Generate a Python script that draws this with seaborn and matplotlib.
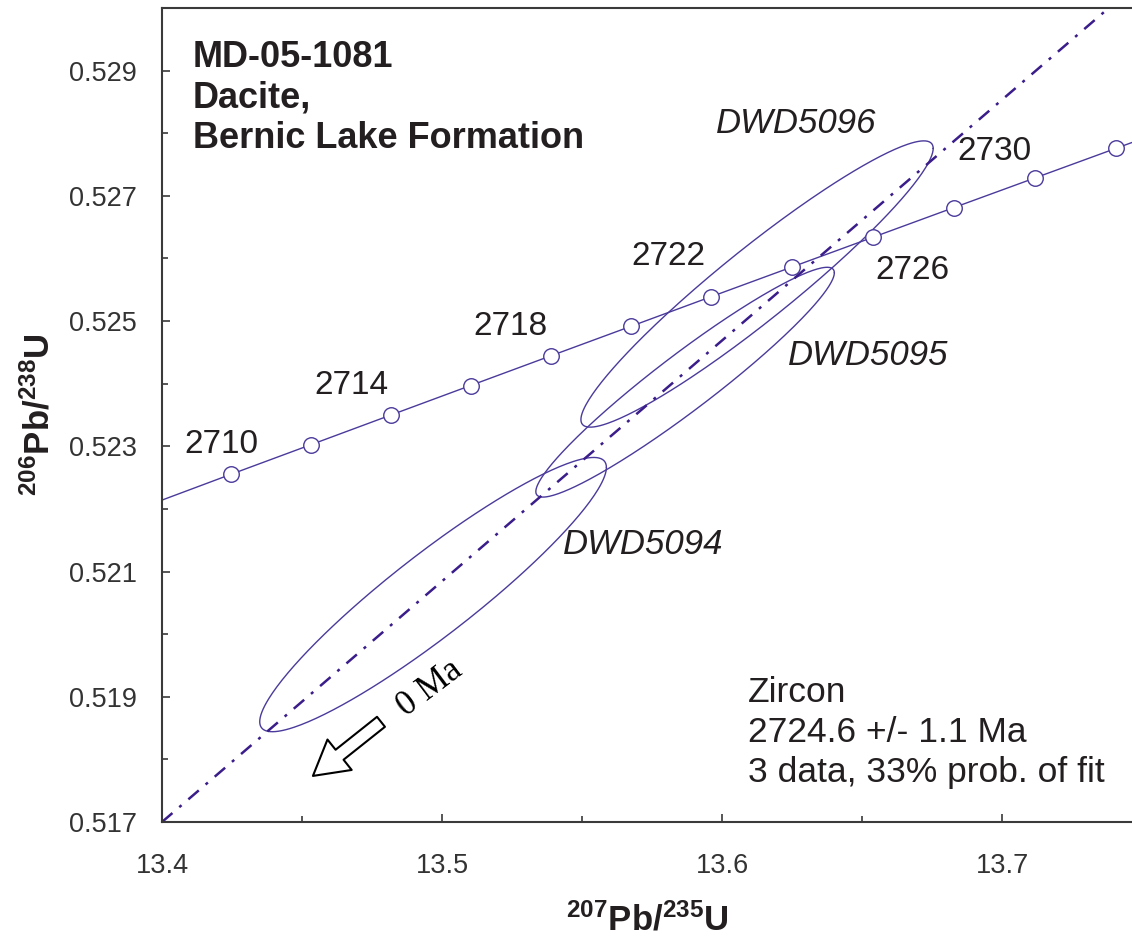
import numpy as np
import matplotlib
matplotlib.use("Agg")
import matplotlib.pyplot as plt
import seaborn as sns

# ---------------- data ----------------
# concordia tick marks (age in Ma) and their ratios
ages = [2710, 2712, 2714, 2716, 2718, 2720, 2722, 2724, 2726, 2728, 2730, 2732]
conc_x = [13.4247, 13.4532, 13.4817, 13.5102, 13.5388, 13.5675,
          13.5962, 13.6250, 13.6538, 13.6827, 13.7117, 13.7407]
conc_y = [0.522554, 0.523026, 0.523499, 0.523971, 0.524444, 0.524917,
          0.525391, 0.525864, 0.526337, 0.526811, 0.527285, 0.527759]
# concordia continues to the plot edges
curve_x = [13.4] + conc_x + [13.7464]
curve_y = [0.522141] + conc_y + [0.527852]

# labelled ages and label positions
label_ages = ["2710", "2714", "2718", "2722", "2726", "2730"]
label_x = [13.4211, 13.4675, 13.5246, 13.5807, 13.6679, 13.6971]
label_y = [0.523032, 0.523976, 0.524920, 0.526024, 0.525800, 0.527704]

# analyses: error ellipses (centre, half-extent in x and y, correlation)
names = ["DWD5094", "DWD5095", "DWD5096"]
ell_cx = [13.4968, 13.5868, 13.6125]
ell_cy = [0.520632, 0.524024, 0.525592]
ell_ex = [0.0619, 0.0533, 0.0629]
ell_ey = [0.00219, 0.001835, 0.002286]
ell_rho = [0.927, 0.952, 0.947]
name_x = [13.5718, 13.6521, 13.6264]
name_y = [0.521432, 0.524456, 0.528152]

# discordia (regression line)
disc_x = [13.4, 13.7381]
disc_y = [0.517, 0.530]

title_lines = ["MD-05-1081", "Dacite,", "Bernic Lake Formation"]
result_lines = ["Zircon", "2724.6 +/- 1.1 Ma", "3 data, 33% prob. of fit"]

# ---------------- style ----------------
sns.set_theme(style="ticks")
plt.rcParams["font.family"] = ["Liberation Sans", "DejaVu Sans"]
plt.rcParams["mathtext.fontset"] = "custom"
plt.rcParams["mathtext.rm"] = "Liberation Sans"
plt.rcParams["mathtext.bf"] = "Liberation Sans:bold"

line_col = "#4b3a9b"
disc_col = "#3a1d8a"
txt_col = "#231f20"
spine_col = "#3a3a3a"

W, H = 1132, 939
fig = plt.figure(figsize=(W / 100, H / 100), dpi=100)
ax = fig.add_axes([162 / W, 1 - 822 / H, (W - 162) / W, (822 - 8) / H])

# concordia curve
sns.lineplot(x=curve_x, y=curve_y, sort=False, estimator=None,
             color=line_col, lw=1.0, ax=ax)

# error ellipses
t = np.linspace(0, 2 * np.pi, 300)
for cx, cy, ex, ey, r in zip(ell_cx, ell_cy, ell_ex, ell_ey, ell_rho):
    ex_pts = cx + ex * np.cos(t)
    ey_pts = cy + ey * (r * np.cos(t) + np.sqrt(1 - r ** 2) * np.sin(t))
    sns.lineplot(x=ex_pts, y=ey_pts, sort=False, estimator=None,
                 color=line_col, lw=1.0, ax=ax)

# discordia
sns.lineplot(x=disc_x, y=disc_y, sort=False, estimator=None, color=disc_col,
             lw=1.8, linestyle=(0, (5.5, 3.6, 1.2, 3.6)), ax=ax)

# concordia markers
sns.scatterplot(x=conc_x, y=conc_y, marker="o", s=125, color="white",
                edgecolor=line_col, linewidth=1.0, zorder=5, ax=ax)

# age labels
for s, x, y in zip(label_ages, label_x, label_y):
    ax.text(x, y, s, fontsize=24, color=txt_col, ha="center", va="center")

# analysis labels
for s, x, y in zip(names, name_x, name_y):
    ax.text(x, y, s, fontsize=25, color=txt_col, ha="center", va="center",
            style="italic")

# title block
for i, s in enumerate(title_lines):
    ax.text(31 / 970, 1 - (59 + 40.5 * i) / 814, s, transform=ax.transAxes,
            fontsize=26, fontweight="bold", color=txt_col, ha="left",
            va="baseline")

# result block
for i, s in enumerate(result_lines):
    ax.text((748 - 162) / 970, 1 - (702 + 40 * i - 8) / 814, s,
            transform=ax.transAxes, fontsize=25.5, color=txt_col, ha="left",
            va="baseline")

# 0 Ma arrow
ax.annotate("", xy=(13.4539, 0.517736), xytext=(13.4782, 0.5186),
            arrowprops=dict(arrowstyle="simple,head_length=2.45,head_width=2.8,tail_width=0.92",
                            fc="white", ec="black", lw=1.5, shrinkA=0, shrinkB=0,
                            mutation_scale=10))
ax.text(13.4955, 0.51914, "0 Ma", rotation=37, fontsize=25, color="black",
        family=["Liberation Serif", "DejaVu Serif"], ha="center", va="center",
        rotation_mode="anchor")

# axes
ax.set_xlim(13.4, 13.7464)
ax.set_ylim(0.517, 0.530)
ax.set_xticks([13.4, 13.5, 13.6, 13.7])
ax.set_xticklabels(["13.4", "13.5", "13.6", "13.7"])
ax.set_xticks([13.45, 13.55, 13.65], minor=True)
yt = [0.517, 0.519, 0.521, 0.523, 0.525, 0.527, 0.529]
ax.set_yticks(yt)
ax.set_yticklabels([f"{v:.3f}" for v in yt])
ax.set_yticks([0.518, 0.520, 0.522, 0.524, 0.526, 0.528], minor=True)

ax.tick_params(axis="both", which="major", direction="in", length=6,
               width=1.2, color=spine_col, labelsize=19.5, labelcolor="#333333")
ax.tick_params(axis="x", which="major", pad=22)
ax.tick_params(axis="y", which="major", pad=18)
ax.tick_params(axis="both", which="minor", direction="in", length=4,
               width=1.2, color=spine_col)

for side in ["left", "bottom", "top"]:
    ax.spines[side].set_color(spine_col)
    ax.spines[side].set_linewidth(1.5)
ax.spines["right"].set_visible(False)

ax.set_xlabel(r"$\mathbf{^{207}Pb/^{235}U}$", fontsize=25, color=txt_col)
ax.set_ylabel(r"$\mathbf{^{206}Pb/^{238}U}$", fontsize=25, color=txt_col)
ax.xaxis.set_label_coords(0.5, -(903 - 822) / 814)
ax.yaxis.set_label_coords(-(162 - 56) / 970, 0.5)

fig.savefig("out.png", dpi=100)
